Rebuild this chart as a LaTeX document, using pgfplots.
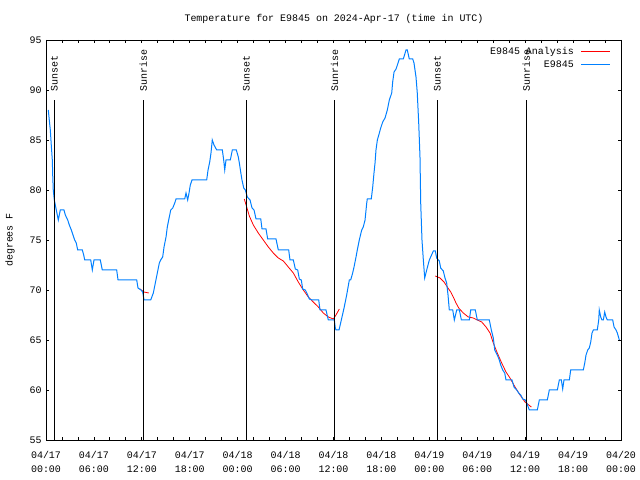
\documentclass[border=0pt]{standalone}
\usepackage{fontspec}
\setmainfont{Liberation Mono}
\usepackage{pgfplots}
\pgfplotsset{compat=1.18}

\definecolor{obsblue}{RGB}{0,128,255}
\definecolor{anared}{RGB}{255,0,0}
\newcommand{\gpfont}{\fontsize{10}{14}\selectfont}
\pgfplotsset{gpline/.style={legend image code/.code={\draw[##1] (0bp,0bp) -- (29bp,0bp);}}}

% E9845 observations (hours since 04/17 00:00 UTC, deg F)
\pgfplotstableread{
h t
0.29 88
0.41 87
0.54 86
0.66 84.5
0.79 83
0.84 81.5
0.91 80
1.04 79
1.29 78
1.54 77
1.79 78
2.25 78
2.42 77.5
2.72 77
2.92 76.5
3.17 76
3.38 75.5
3.59 75
3.79 74.7
3.97 74
4.55 74
4.72 73.5
4.85 73
5.60 73
5.80 72
6.01 73
6.80 73
7.05 72
8.85 72
9.02 71
11.36 71
11.52 70.2
11.90 70
12.11 69.8
12.27 69
13.11 69
13.44 69.7
13.69 70.7
13.94 71.7
14.19 72.7
14.36 73
14.61 73.3
14.78 74.3
15.03 75.3
15.19 76.3
15.44 77.3
15.62 78
15.87 78.2
16.12 78.7
16.28 79.1
17.37 79.1
17.53 79.7
17.74 79
17.91 79.7
18.07 80.5
18.28 81
20.12 81
20.29 82
20.50 82.8
20.66 83.7
20.82 85
21.04 84.5
21.38 84
22.08 84
22.25 83
22.38 82
22.54 83
23.08 83
23.33 84
23.83 84
24.08 83.3
24.21 82.7
24.38 81.8
24.54 81
24.76 80.2
24.96 80
25.21 79.3
25.55 79
25.80 78.2
26.05 78
26.30 77.1
26.89 77.1
27.05 76.1
27.55 76.1
27.76 75.1
28.80 75.1
29.09 74
30.39 74
30.55 73
30.97 73
31.22 72.1
31.52 72
31.72 71.1
31.97 71
32.14 70.1
32.47 70
32.72 69.6
32.97 69.1
33.31 69
34.15 69
34.31 68
35.06 68
35.35 67
36.10 67
36.23 66.2
36.31 66
36.69 66
36.98 67
37.32 68.2
37.65 69.5
37.98 71
38.15 71
38.40 71.7
38.57 72.3
38.82 73.3
38.98 74
39.23 75
39.53 76
39.73 76.3
39.95 77
40.16 78.7
40.23 79.1
40.73 79.1
40.91 80.3
41.07 81.7
41.20 82.7
41.32 84
41.49 85
41.74 85.7
41.91 86.2
42.16 86.8
42.45 87.2
42.74 88
42.99 89
43.29 89.7
43.41 90.8
43.58 91.8
43.83 92.1
44.08 92.7
44.24 93.1
44.74 93.1
45.08 94
45.24 94
45.49 93.1
45.92 93.1
46.08 92.7
46.33 91.3
46.49 89.7
46.67 86.7
46.83 83.3
46.92 78.7
47.08 75
47.25 73
47.42 71.2
47.67 72
48.00 73
48.50 73.9
48.75 73.9
48.92 73.2
49.25 72.9
49.42 72.2
49.75 71.9
49.96 71.2
50.17 70.7
50.34 69.5
50.50 68
50.93 68
51.13 67
51.43 68
51.76 68
52.01 67
53.01 67
53.18 68
53.76 68
54.01 67
55.51 67
55.76 66
56.01 65.2
56.19 64
56.51 63.5
56.76 63
56.94 62.5
57.19 62
57.44 61.7
57.60 61
58.35 61
58.60 60.3
58.94 60
59.19 59.7
59.44 59.5
59.69 59.1
60.02 59
60.19 58.7
60.52 58
61.52 58
61.70 58.7
61.77 59
62.77 59
62.95 59.7
63.02 60
64.03 60
64.20 60.7
64.28 61
64.53 61
64.70 60.1
64.86 61
65.53 61
65.70 62
67.28 62
67.46 62.7
67.62 63.5
67.83 64
68.03 64.2
68.21 64.8
68.37 65.7
68.54 66
69.03 66
69.21 67
69.28 68
69.46 67.3
69.62 67
69.79 67
69.96 67.8
70.12 67.3
70.29 67
70.96 67
71.13 66.3
71.38 66
71.54 65.7
71.72 65.2
71.79 65
}\obs

% E9845 analysis, three overnight windows
\pgfplotstableread{
h t
11.77 70.1
12.27 69.8
12.86 69.7
}\anaA
\pgfplotstableread{
h t
24.83 79.1
25.13 78.3
25.46 77.4
25.96 76.5
26.58 75.7
27.21 75.0
27.84 74.3
28.46 73.7
29.09 73.2
29.72 72.9
30.34 72.3
30.97 71.7
31.59 70.8
32.22 70.0
32.85 69.3
33.47 68.8
34.10 68.3
34.72 67.7
35.35 67.3
35.98 67.1
36.31 67.5
36.73 68.1
}\anaB
\pgfplotstableread{
h t
48.75 71.4
49.34 71.2
49.84 70.8
50.25 70.3
50.68 69.8
51.00 69.3
51.34 68.7
51.68 68.2
52.25 67.7
52.88 67.3
53.51 67.2
54.01 67.0
54.56 66.8
55.10 66.3
55.60 65.7
56.01 64.7
56.51 63.7
57.06 62.7
57.60 61.8
58.10 61.2
58.73 60.3
59.36 59.5
59.98 58.8
60.77 58.3
}\anaC

\begin{document}
\begin{tikzpicture}
\path[use as bounding box, fill=white] (0,0) rectangle (640bp,480bp);
\node[font=\gpfont] at (334bp,461bp) {Temperature for E9845 on 2024-Apr-17 (time in UTC)};
\node[font=\gpfont, rotate=90] at (10bp,240bp) {degrees F};
\begin{axis}[
  at={(46bp,40bp)}, anchor=south west,
  scale only axis, width=575bp, height=400bp,
  xmin=0, xmax=72, ymin=55, ymax=95,
  xtick={0,6,...,72},
  xticklabels={{04/17\\00:00},{04/17\\06:00},{04/17\\12:00},{04/17\\18:00},
    {04/18\\00:00},{04/18\\06:00},{04/18\\12:00},{04/18\\18:00},
    {04/19\\00:00},{04/19\\06:00},{04/19\\12:00},{04/19\\18:00},{04/20\\00:00}},
  minor x tick num=2,
  ytick={55,60,...,95},
  tick align=inside, tick pos=both,
  major tick length=3bp, minor tick length=3bp,
  tick style={black, line width=0.8bp},
  axis line style={line width=0.9bp},
  tick label style={font=\gpfont},
  xticklabel style={align=center, yshift=-8bp},
  yticklabel style={xshift=-1bp},
  /pgf/number format/assume math mode=true,
  legend plot pos=right,
  legend cell align=right,
  legend style={draw=none, fill=none, at={(1,1)}, anchor=north east,
    xshift=-7bp, yshift=-4bp, font=\gpfont, row sep=2bp, column sep=6bp,
    nodes={inner sep=1bp, text height=7bp, text depth=2bp}},
]
\addplot[anared, line width=0.8bp, gpline] table {\anaA};
\addlegendentry{E9845 Analysis}
\addplot[anared, line width=0.8bp, forget plot] table {\anaB};
\addplot[anared, line width=0.8bp, forget plot] table {\anaC};
\addplot[obsblue, line width=1bp, gpline] table {\obs};
\addlegendentry{E9845}

% sunrise / sunset markers
\pgfplotsinvokeforeach{1.04,25.08,48.99}{
  \addplot[black, line width=0.9bp, forget plot] coordinates {(#1,55) (#1,89.0)};
  \node[rotate=90, anchor=west, inner sep=0pt, font=\gpfont] at (axis cs:#1,89.85) {Sunset};
}
\pgfplotsinvokeforeach{12.18,36.13,60.14}{
  \addplot[black, line width=0.9bp, forget plot] coordinates {(#1,55) (#1,89.0)};
  \node[rotate=90, anchor=west, inner sep=0pt, font=\gpfont] at (axis cs:#1,89.85) {Sunrise};
}
\end{axis}
\end{tikzpicture}
\end{document}
